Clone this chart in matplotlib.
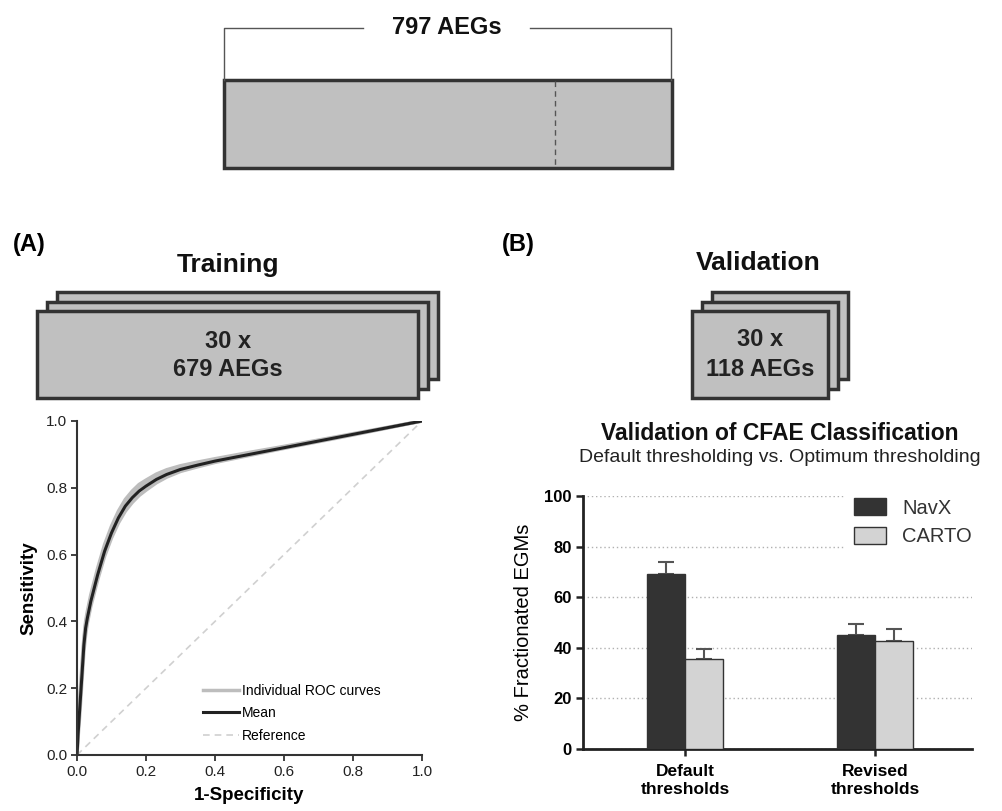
import matplotlib
matplotlib.use("Agg")
import matplotlib.pyplot as plt
from matplotlib.patches import Rectangle

plt.rcParams['font.family'] = ['Liberation Sans', 'DejaVu Sans']

# ROC data
fpr = [0, 0.003, 0.008, 0.015, 0.02, 0.025, 0.03, 0.04, 0.05, 0.06, 0.08, 0.1,
       0.12, 0.14, 0.16, 0.18, 0.2, 0.23, 0.26, 0.3, 0.35, 0.4, 0.5, 0.6, 0.7,
       0.8, 0.9, 1.0]
tpr_mean = [0, 0.06, 0.14, 0.25, 0.33, 0.38, 0.41, 0.46, 0.5, 0.54, 0.61, 0.665,
            0.71, 0.745, 0.77, 0.79, 0.805, 0.825, 0.84, 0.855, 0.868, 0.88, 0.9,
            0.92, 0.94, 0.96, 0.98, 1.0]
tpr_ind1 = [0, 0.08, 0.17, 0.28, 0.35, 0.4, 0.43, 0.48, 0.52, 0.56, 0.63, 0.685,
            0.73, 0.765, 0.79, 0.81, 0.823, 0.841, 0.854, 0.866, 0.877, 0.887, 0.906,
            0.924, 0.943, 0.962, 0.981, 1.0]
tpr_ind2 = [0, 0.05, 0.12, 0.23, 0.31, 0.36, 0.395, 0.445, 0.485, 0.525, 0.595, 0.65,
            0.695, 0.73, 0.756, 0.777, 0.793, 0.815, 0.832, 0.849, 0.863, 0.876, 0.897,
            0.918, 0.938, 0.958, 0.979, 1.0]
tpr_ind3 = [0, 0.07, 0.15, 0.26, 0.34, 0.39, 0.42, 0.47, 0.51, 0.55, 0.62, 0.675,
            0.72, 0.755, 0.78, 0.8, 0.815, 0.834, 0.848, 0.861, 0.872, 0.884, 0.903,
            0.922, 0.941, 0.96, 0.98, 1.0]

# bar chart data
groups = ["Default\nthresholds", "Revised\nthresholds"]
navx = [69.2, 45.0]
navx_err = [4.8, 4.4]
carto = [35.6, 42.7]
carto_err = [4.1, 4.9]

W, H = 1003, 811
fig = plt.figure(figsize=(W / 100, H / 100), dpi=100)

# overlay for diagram parts, pixel coords
ov = fig.add_axes([0, 0, 1, 1])
ov.set_xlim(0, W)
ov.set_ylim(H, 0)
ov.axis('off')

box_fill = '#c0c0c0'
box_edge = '#333333'

# top bracket + bar
ov.plot([224, 224, 363], [80, 28, 28], color='#555555', lw=1)
ov.plot([530, 671, 671], [28, 28, 80], color='#555555', lw=1)
ov.text(447, 28, "797 AEGs", ha='center', va='center', fontsize=17,
        fontweight='bold', color='#111111')
ov.add_patch(Rectangle((224, 80), 448, 88, facecolor=box_fill,
                       edgecolor=box_edge, lw=2.5))
ov.plot([555, 555], [81, 167], color='#555555', lw=1, ls=(0, (4, 3)))

# panel labels
ov.text(13, 245, "(A)", ha='left', va='center', fontsize=17, fontweight='bold')
ov.text(502, 245, "(B)", ha='left', va='center', fontsize=17, fontweight='bold')
ov.text(228, 265, "Training", ha='center', va='center', fontsize=19,
        fontweight='bold', color='#111111')
ov.text(758, 263, "Validation", ha='center', va='center', fontsize=19,
        fontweight='bold', color='#111111')


def stack(x0, x1, y0, y1):
    for k in (2, 1, 0):
        ov.add_patch(Rectangle((x0 + 10 * k, y0 - 9.5 * k), x1 - x0, y1 - y0,
                               facecolor=box_fill, edgecolor=box_edge, lw=2.5))


stack(37, 418, 311, 398)
ov.text(228, 342, "30 x", ha='center', va='center', fontsize=17,
        fontweight='bold', color='#222222')
ov.text(228, 370, "679 AEGs", ha='center', va='center', fontsize=17,
        fontweight='bold', color='#222222')

stack(692, 828, 311, 398)
ov.text(760, 340, "30 x", ha='center', va='center', fontsize=17,
        fontweight='bold', color='#222222')
ov.text(760, 369, "118 AEGs", ha='center', va='center', fontsize=17,
        fontweight='bold', color='#222222')

# (A) ROC
ax = fig.add_axes([77 / W, (H - 755) / H, 345 / W, 334 / H])
ax.plot([0, 1], [0, 1], color='#d0d0d0', lw=1.2, ls=(0, (4, 3)), label='Reference')
ax.plot(fpr, tpr_ind1, color='#bdbdbd', lw=2.5, label='Individual ROC curves')
ax.plot(fpr, tpr_ind2, color='#bdbdbd', lw=2.5)
ax.plot(fpr, tpr_ind3, color='#bdbdbd', lw=2.5)
ax.plot(fpr, tpr_mean, color='#222222', lw=2.2, label='Mean')
ax.set_xlim(0, 1)
ax.set_ylim(0, 1)
ax.set_xticks([0, 0.2, 0.4, 0.6, 0.8, 1.0])
ax.set_yticks([0, 0.2, 0.4, 0.6, 0.8, 1.0])
ax.set_xticklabels(["0.0", "0.2", "0.4", "0.6", "0.8", "1.0"])
ax.set_yticklabels(["0.0", "0.2", "0.4", "0.6", "0.8", "1.0"])
for s in ('top', 'right'):
    ax.spines[s].set_visible(False)
for s in ('left', 'bottom'):
    ax.spines[s].set_color('#333333')
    ax.spines[s].set_linewidth(1.5)
ax.tick_params(direction='out', length=4, width=1.3, color='#333333',
               labelsize=11, labelcolor='#222222', pad=3)
ax.set_xlabel("1-Specificity", fontsize=13.5, fontweight='bold', labelpad=6)
ax.set_ylabel("Sensitivity", fontsize=13.5, fontweight='bold', labelpad=6)
h, l = ax.get_legend_handles_labels()
order = [1, 2, 0]
ax.legend([h[i] for i in order], [l[i] for i in order], loc='lower left',
          bbox_to_anchor=(0.33, 0.0), frameon=False, fontsize=10,
          handlelength=2.6, handletextpad=0.2, labelspacing=0.6)

# (B) bar chart
bx = fig.add_axes([583 / W, (H - 749) / H, 389 / W, 253 / H])
xs = list(range(len(groups)))
bw = 0.2
bx.bar([x - bw / 2 for x in xs], navx, bw, color='#333333', edgecolor='#333333',
       lw=1, label='NavX', zorder=3)
bx.bar([x + bw / 2 for x in xs], carto, bw, color='#d3d3d3', edgecolor='#333333',
       lw=1, label='CARTO', zorder=3)
bx.errorbar([x - bw / 2 for x in xs], navx, yerr=[[0] * len(navx), navx_err],
            fmt='none', ecolor='#555555', elinewidth=1.5, capsize=6, capthick=1.5,
            zorder=2)
bx.errorbar([x + bw / 2 for x in xs], carto, yerr=[[0] * len(carto), carto_err],
            fmt='none', ecolor='#555555', elinewidth=1.5, capsize=6, capthick=1.5,
            zorder=2)
bx.set_xlim(-0.537, 1.511)
bx.set_ylim(0, 100)
bx.set_yticks([0, 20, 40, 60, 80, 100])
bx.set_xticks(xs)
bx.set_xticklabels(groups, fontsize=12.5, fontweight='bold', linespacing=1.25)
for t in bx.get_yticklabels():
    t.set_fontweight('bold')
    t.set_fontsize(12)
bx.yaxis.grid(True, ls=(0, (1, 2)), color='#b0b0b0', lw=1, zorder=0)
bx.set_axisbelow(True)
for s in ('top', 'right'):
    bx.spines[s].set_visible(False)
for s in ('left', 'bottom'):
    bx.spines[s].set_color('#222222')
    bx.spines[s].set_linewidth(2)
bx.tick_params(direction='out', length=5, width=1.8, color='#222222', pad=3)
bx.tick_params(axis='x', pad=6)
bx.set_ylabel("% Fractionated EGMs", fontsize=14.5, labelpad=8)
bx.legend(loc='upper left', bbox_to_anchor=(0.645, 1.07), fontsize=14.5,
          frameon=True, facecolor='white', edgecolor='white', framealpha=1,
          handlelength=1.6, handleheight=0.9, handletextpad=0.8,
          labelspacing=0.45, borderpad=0.5, fancybox=False, labelcolor='#333333')
fig.text(780 / W, (H - 433) / H, "Validation of CFAE Classification",
         ha='center', va='center', fontsize=16.5, fontweight='bold',
         color='#111111')
fig.text(780 / W, (H - 457) / H, "Default thresholding vs. Optimum thresholding",
         ha='center', va='center', fontsize=14, color='#222222')

fig.savefig("out.png", dpi=100)
